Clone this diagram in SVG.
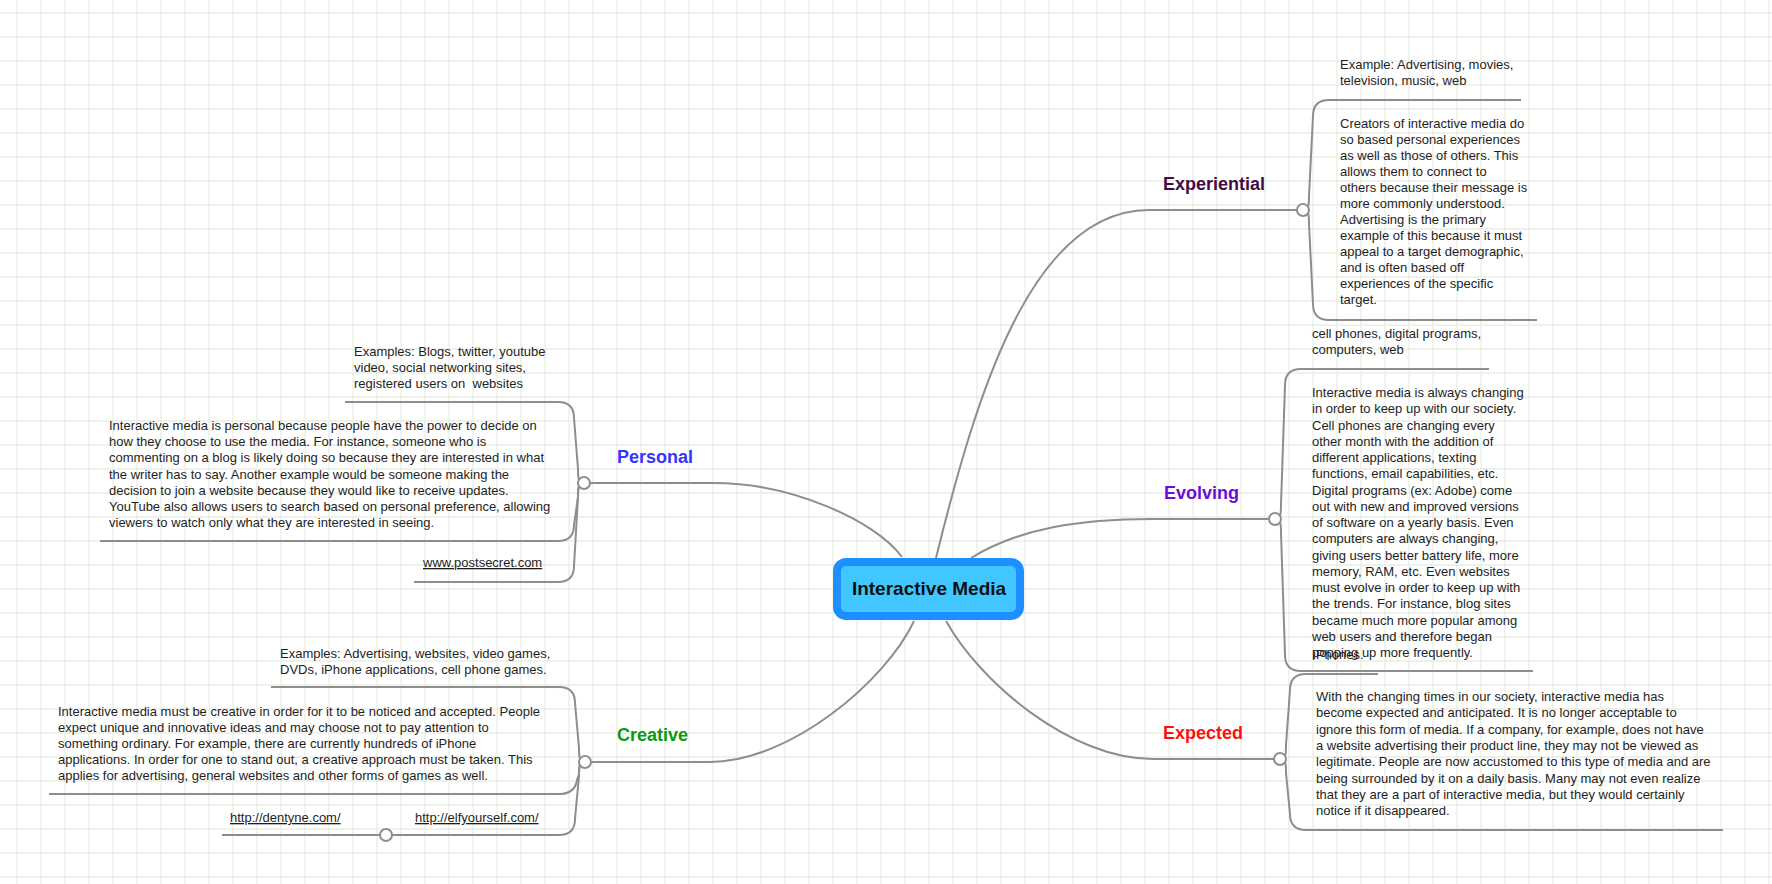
<svg xmlns="http://www.w3.org/2000/svg" width="1772" height="884" viewBox="0 0 1772 884">
<style>
.t{font-family:"Liberation Sans",Arial,sans-serif;font-size:13px;fill:#1e1e1e}
.u{text-decoration:underline}
.lb{font-family:"Liberation Sans",Arial,sans-serif;font-size:18px;font-weight:bold}
.c{fill:none;stroke:#8e8e8e;stroke-width:2}
.dot{fill:#ffffff;stroke:#8e8e8e;stroke-width:2}
</style>
<defs>
<pattern id="grid" x="16" y="12" width="24" height="24" patternUnits="userSpaceOnUse">
<path d="M0 1H24M1 0V24" stroke="#eaeee2" stroke-width="1.3" fill="none"/>
</pattern>
</defs>
<rect width="1772" height="884" fill="#ffffff"/>
<rect width="1772" height="884" fill="url(#grid)"/>

<g id="connectors">
<path class="c" d="M936,558 C975,400 1030,210 1149,210 L1303,210"/>
<path class="c" d="M971,558 C1020,528 1080,519 1153,519 L1275,519"/>
<path class="c" d="M946,621 C980,682 1070,759 1153,759 L1280,759"/>
<path class="c" d="M902,557 C875,520 790,483 714,483 L584,483"/>
<path class="c" d="M914,621 C886,681 790,762 710,762 L585,762"/>

<path class="c" d="M1303,210 C1309,210 1309,204 1309,196 L1313,116 Q1313,100 1329,100 L1521,100"/>
<path class="c" d="M1303,210 C1309,210 1309,216 1309,224 L1313,304 Q1313,320 1329,320 L1537,320"/>

<path class="c" d="M1275,519 C1281,519 1281,513 1281,505 L1285,385 Q1285,369 1301,369 L1489,369"/>
<path class="c" d="M1275,519 C1281,519 1281,525 1281,533 L1285,655 Q1285,671 1301,671 L1533,671"/>

<path class="c" d="M1280,759 C1286,759 1286,753 1286,745 L1290,690 Q1290,674 1306,674 L1378,674"/>
<path class="c" d="M1280,759 C1286,759 1286,765 1286,773 L1290,814 Q1290,830 1306,830 L1723,830"/>

<path class="c" d="M584,483 C578,483 578,477 578,469 L574,418 Q574,402 558,402 L345,402"/>
<path class="c" d="M584,483 C578,483 578,489 578,497 L574,525 Q574,541 558,541 L100,541"/>
<path class="c" d="M584,483 C578,483 578,489 578,497 L574,566 Q574,582 558,582 L414,582"/>

<path class="c" d="M585,762 C579,762 579,756 579,748 L575,703 Q575,687 559,687 L271,687"/>
<path class="c" d="M585,762 C579,762 579,768 579,774 L577,780 Q575,794 559,794 L49,794"/>
<path class="c" d="M585,762 C579,762 579,768 579,776 L575,819 Q575,835 559,835 L386,835 L222,835"/>
</g>

<g id="center">
<rect x="837" y="562" width="183" height="54" rx="9" fill="#42c6ff" stroke="#1e8fff" stroke-width="8"/>
<text x="929" y="595" text-anchor="middle" font-family="Liberation Sans, Arial, sans-serif" font-size="19" font-weight="bold" fill="#111111">Interactive Media</text>
</g>

<g id="experiential">
<text class="lb" x="1163" y="190" fill="#420d45">Experiential</text>
<circle class="dot" cx="1303" cy="210" r="6"/>
</g>
<g id="exp-examples">
<text class="t" x="1340" y="69">Example: Advertising, movies,</text>
<text class="t" x="1340" y="85">television, music, web</text>
</g>
<g id="exp-body">
<text class="t" x="1340" y="128">Creators of interactive media do</text>
<text class="t" x="1340" y="144">so based personal experiences</text>
<text class="t" x="1340" y="160">as well as those of others. This</text>
<text class="t" x="1340" y="176">allows them to connect to</text>
<text class="t" x="1340" y="192">others because their message is</text>
<text class="t" x="1340" y="208">more commonly understood.</text>
<text class="t" x="1340" y="224">Advertising is the primary</text>
<text class="t" x="1340" y="240">example of this because it must</text>
<text class="t" x="1340" y="256">appeal to a target demographic,</text>
<text class="t" x="1340" y="272">and is often based off</text>
<text class="t" x="1340" y="288">experiences of the specific</text>
<text class="t" x="1340" y="304">target.</text>
</g>

<g id="evolving">
<text class="lb" x="1164" y="499" fill="#6a0fd0">Evolving</text>
<circle class="dot" cx="1275" cy="519" r="6"/>
</g>
<g id="evo-examples">
<text class="t" x="1312" y="338">cell phones, digital programs,</text>
<text class="t" x="1312" y="354">computers, web</text>
</g>
<g id="evo-body">
<text class="t" x="1312" y="397">Interactive media is always changing</text>
<text class="t" x="1312" y="413.25">in order to keep up with our society.</text>
<text class="t" x="1312" y="429.5">Cell phones are changing every</text>
<text class="t" x="1312" y="445.75">other month with the addition of</text>
<text class="t" x="1312" y="462">different applications, texting</text>
<text class="t" x="1312" y="478.25">functions, email capabilities, etc.</text>
<text class="t" x="1312" y="494.5">Digital programs (ex: Adobe) come</text>
<text class="t" x="1312" y="510.75">out with new and improved versions</text>
<text class="t" x="1312" y="527">of software on a yearly basis. Even</text>
<text class="t" x="1312" y="543.25">computers are always changing,</text>
<text class="t" x="1312" y="559.5">giving users better battery life, more</text>
<text class="t" x="1312" y="575.75">memory, RAM, etc. Even websites</text>
<text class="t" x="1312" y="592">must evolve in order to keep up with</text>
<text class="t" x="1312" y="608.25">the trends. For instance, blog sites</text>
<text class="t" x="1312" y="624.5">became much more popular among</text>
<text class="t" x="1312" y="640.75">web users and therefore began</text>
<text class="t" x="1312" y="657">popping up more frequently.</text>
</g>

<g id="expected">
<text class="lb" x="1163" y="739" fill="#ff1010">Expected</text>
<circle class="dot" cx="1280" cy="759" r="6"/>
</g>
<g id="expd-iphones">
<text class="t" x="1313" y="659">iPhones.</text>
</g>
<g id="expd-body">
<text class="t" x="1316" y="701">With the changing times in our society, interactive media has</text>
<text class="t" x="1316" y="717.3">become expected and anticipated. It is no longer acceptable to</text>
<text class="t" x="1316" y="733.6">ignore this form of media. If a company, for example, does not have</text>
<text class="t" x="1316" y="749.9">a website advertising their product line, they may not be viewed as</text>
<text class="t" x="1316" y="766.2">legitimate. People are now accustomed to this type of media and are</text>
<text class="t" x="1316" y="782.5">being surrounded by it on a daily basis. Many may not even realize</text>
<text class="t" x="1316" y="798.8">that they are a part of interactive media, but they would certainly</text>
<text class="t" x="1316" y="815.1">notice if it disappeared.</text>
</g>

<g id="personal">
<text class="lb" x="617" y="463" fill="#3535ff">Personal</text>
<circle class="dot" cx="584" cy="483" r="6"/>
</g>
<g id="pers-examples">
<text class="t" x="354" y="356">Examples: Blogs, twitter, youtube</text>
<text class="t" x="354" y="372">video, social networking sites,</text>
<text class="t" x="354" y="388" xml:space="preserve">registered users on  websites</text>
</g>
<g id="pers-body">
<text class="t" x="109" y="430">Interactive media is personal because people have the power to decide on</text>
<text class="t" x="109" y="446.2">how they choose to use the media. For instance, someone who is</text>
<text class="t" x="109" y="462.4">commenting on a blog is likely doing so because they are interested in what</text>
<text class="t" x="109" y="478.6">the writer has to say. Another example would be someone making the</text>
<text class="t" x="109" y="494.8">decision to join a website because they would like to receive updates.</text>
<text class="t" x="109" y="511">YouTube also allows users to search based on personal preference, allowing</text>
<text class="t" x="109" y="527.2">viewers to watch only what they are interested in seeing.</text>
</g>
<g id="pers-link">
<text class="t u" x="423" y="567">www.postsecret.com</text>
</g>

<g id="creative">
<text class="lb" x="617" y="741" fill="#0a9b0a">Creative</text>
<circle class="dot" cx="585" cy="762" r="6"/>
</g>
<g id="cre-examples">
<text class="t" x="280" y="658">Examples: Advertising, websites, video games,</text>
<text class="t" x="280" y="674">DVDs, iPhone applications, cell phone games.</text>
</g>
<g id="cre-body">
<text class="t" x="58" y="716">Interactive media must be creative in order for it to be noticed and accepted. People</text>
<text class="t" x="58" y="732">expect unique and innovative ideas and may choose not to pay attention to</text>
<text class="t" x="58" y="748">something ordinary. For example, there are currently hundreds of iPhone</text>
<text class="t" x="58" y="764">applications. In order for one to stand out, a creative approach must be taken. This</text>
<text class="t" x="58" y="780">applies for advertising, general websites and other forms of games as well.</text>
</g>
<g id="cre-elf">
<text class="t u" x="415" y="822">http://elfyourself.com/</text>
<circle class="dot" cx="386" cy="835" r="6"/>
</g>
<g id="cre-dentyne">
<text class="t u" x="230" y="822">http://dentyne.com/</text>
</g>
</svg>
